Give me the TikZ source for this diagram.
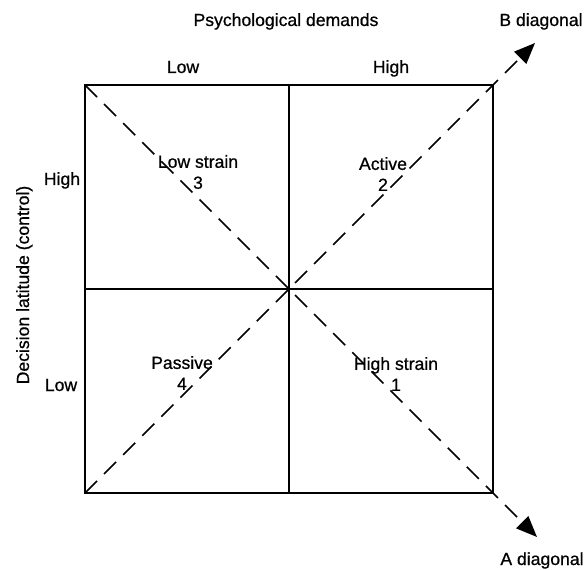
\documentclass[tikz,border=0pt]{standalone}
\usepackage{fontspec}
\setmainfont{Liberation Sans}
\newfontfamily\labelfont{Liberation Sans}[FakeBold=0.7]
\usetikzlibrary{arrows.meta}

\begin{document}
\begin{tikzpicture}[
    x=1pt, y=-1pt,
    line cap=butt, line join=miter,
    frame/.style={black, line width=2pt},
    diag/.style={black, line width=1.7pt, dash pattern=on 17pt off 10pt,
        -{Triangle[length=21pt, width=17pt]}},
    lbl/.style={font=\labelfont\fontsize{17.6}{21}\selectfont, inner sep=0pt, anchor=base},
    quad/.style={font=\labelfont\fontsize{17.6}{21}\selectfont, inner sep=0pt, align=center},
]
\useasboundingbox (0,0) rectangle (585,569);

% Corners and mid points of the grid
\coordinate (tl) at (85,85);
\coordinate (tr) at (493,85);
\coordinate (bl) at (85,493);
\coordinate (br) at (493,493);
\coordinate (tm) at (289,85);
\coordinate (bm) at (289,493);
\coordinate (lm) at (85,289);
\coordinate (rm) at (493,289);
\coordinate (btip) at (535,43);
\coordinate (atip) at (537,537);

% Outer square and the two dividing lines
\draw[frame] (tl) rectangle (br);
\draw[frame] (tm) -- (bm);
\draw[frame] (lm) -- (rm);

% Diagonals
\draw[diag] (bl) -- (btip);
\draw[diag] (tl) -- (atip);

% Axis titles
\node[lbl] (demands) at (286,26) {Psychological demands};
\node[lbl, rotate=90] (latitude) at (29,285) {Decision latitude (control)};
\node[lbl] (bdiag) at (541,26) {B diagonal};
\node[lbl] (adiag) at (542,565) {A diagonal};

% Axis levels
\node[lbl] (dlow) at (183,73) {Low};
\node[lbl] (dhigh) at (391,73) {High};
\node[lbl] (lhigh) at (62,185) {High};
\node[lbl] (llow) at (61,391) {Low};

% Quadrants
\node[quad] (lowstrain) at (198,172) {Low strain\\3};
\node[quad] (active) at (383,174) {Active\\2};
\node[quad] (passive) at (182,373) {Passive\\4};
\node[quad] (highstrain) at (396,374) {High strain\\1};

\end{tikzpicture}
\end{document}
